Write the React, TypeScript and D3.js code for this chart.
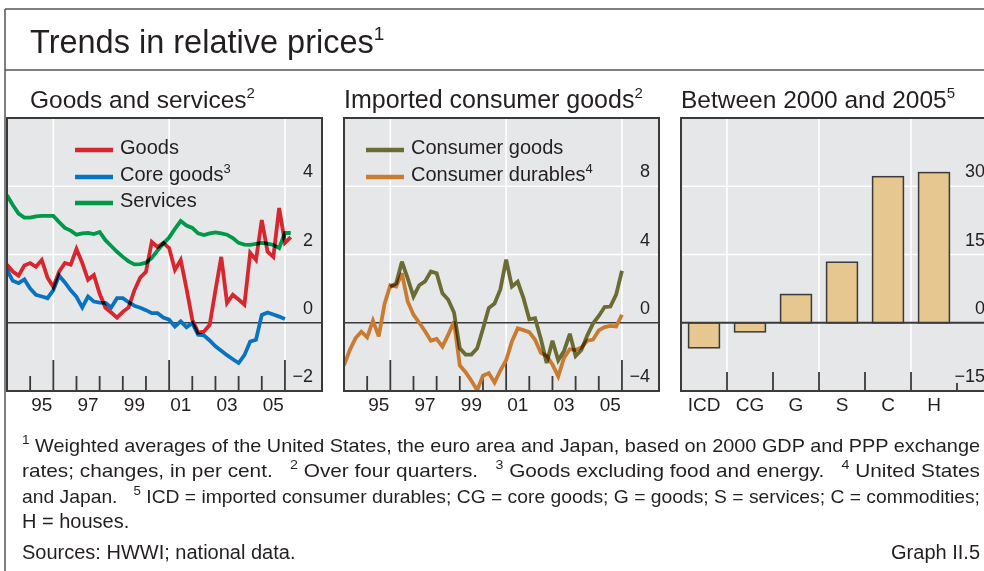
import React from 'react';
import * as d3 from 'd3';

// ---------- data (quarterly, first point = 1994 Q1) ----------
const seriesStart = 1994;
const goods = [1.70,1.50,1.38,1.68,1.75,1.64,1.84,1.32,1.05,1.50,1.75,1.70,2.16,1.75,1.26,1.40,0.85,0.44,0.30,0.15,0.32,0.45,0.95,1.32,1.49,2.37,2.22,2.34,2.19,1.55,1.84,1.00,0.09,-0.29,-0.26,-0.06,0.95,1.93,0.58,0.82,0.68,0.53,2.05,1.84,3.01,2.08,1.93,3.36,2.34,2.51];
const coreGoods = [1.55,1.23,1.16,1.27,1.00,0.82,0.77,0.72,0.96,1.38,1.18,0.95,0.76,0.45,0.77,0.62,0.59,0.58,0.45,0.72,0.72,0.60,0.50,0.44,0.37,0.28,0.28,0.15,0.09,-0.11,0.04,-0.13,-0.01,-0.35,-0.37,-0.52,-0.69,-0.82,-0.95,-1.07,-1.18,-0.95,-0.55,-0.50,0.23,0.30,0.24,0.18,0.11];
const services = [3.74,3.45,3.20,3.08,3.08,3.12,3.13,3.13,3.13,2.95,2.78,2.70,2.58,2.62,2.63,2.60,2.66,2.42,2.25,2.08,1.93,1.80,1.71,1.72,1.76,1.90,2.12,2.32,2.50,2.75,2.98,2.85,2.78,2.62,2.57,2.62,2.65,2.62,2.58,2.48,2.34,2.29,2.28,2.31,2.34,2.32,2.28,2.19,2.63,2.63];
const consumerGoodsStart = 1996;
const consumerGoods = [2.1,2.3,3.58,2.6,1.54,2.2,2.42,3.0,2.90,1.72,1.35,0.6,-1.5,-1.87,-1.87,-1.5,-0.35,0.86,1.13,1.95,3.7,2.12,2.4,1.44,0.2,0.27,-0.95,-2.36,-1.05,-2.2,-1.65,-0.65,-1.95,-1.6,-0.75,-0.05,0.4,0.92,0.95,1.65,3.05];
const consumerDurables = [-2.5,-1.6,-0.9,-0.52,-0.85,0.12,-0.8,1.1,2.2,2.12,2.9,1.25,0.47,0.0,-0.5,-1.05,-0.95,-1.4,-0.7,0.08,-2.5,-2.9,-3.4,-3.95,-3.1,-2.95,-3.5,-2.8,-2.2,-1.1,-0.33,-0.43,-0.55,-1.0,-1.77,-1.95,-2.45,-3.14,-2.05,-1.55,-1.6,-1.45,-1.05,-0.99,-0.45,-0.25,-0.18,-0.22,0.47];

const barCategories = ['ICD', 'CG', 'G', 'S', 'C', 'H'];
const barValues = [-5.5, -2.0, 6.2, 13.3, 32.1, 33.0];

const yearLabels = ['95', '97', '99', '01', '03', '05'];
const goodsTicks = [-2, 0, 2, 4];
const importTicks = [-4, 0, 4, 8];
const barTicks = [-15, 0, 15, 30];

// ---------- style ----------
const FONT = '"Liberation Sans", Arial, Helvetica, sans-serif';
const TXT = '#231f20';
const BG = '#e6e7e8';
const FRAME = '#3a3a3a';
const C_GOODS = '#d7262e';
const C_CORE = '#0a73c0';
const C_SERV = '#00994a';
const C_CG = '#6b6c33';
const C_CD = '#c97b32';
const BAR_FILL = '#e5c78f';

const W = 984, H = 571;
const PW = 315, TOP = 118, BOTTOM = 391;
const LEFTS = [7, 344, 681];

type Pt = { t: number; v: number };
const toPts = (vals: number[], start: number): Pt[] => vals.map((v, i) => ({ t: start + i / 4, v }));

function Sup({ parts, x, y, size, supSize, anchor, textLength }: any) {
  const shift = Math.round(size * 0.4);
  let raised = false;
  return (
    <text x={x} y={y} fontSize={size} fill={TXT} textAnchor={anchor || 'start'}
      textLength={textLength} lengthAdjust={textLength ? 'spacingAndGlyphs' : undefined}
      style={{ whiteSpace: 'pre' }}>
      {parts.map((p: [string, boolean], i: number) => {
        const [s, sup] = p;
        let dy = 0;
        if (sup && !raised) { dy = -shift; raised = true; }
        else if (!sup && raised) { dy = shift; raised = false; }
        return (
          <tspan key={i} dy={dy || undefined} fontSize={sup ? supSize : undefined}>{s}</tspan>
        );
      })}
    </text>
  );
}

function TimePanel({ idx, left, yDomain, ticks, lines, legend }: any) {
  const x = d3.scaleLinear().domain([1994, 2007.6]).range([left, left + PW]);
  const y = d3.scaleLinear().domain(yDomain).range([BOTTOM, TOP]);
  const line = d3.line<Pt>().x(d => x(d.t)).y(d => y(d.v));
  const years = d3.range(1995, 2007);
  const bigYears = [1996, 2001, 2006];
  const clipId = 'clip' + idx;
  return (
    <g>
      <defs>
        <clipPath id={clipId}><rect x={left} y={TOP} width={PW} height={BOTTOM - TOP} /></clipPath>
      </defs>
      <rect x={left} y={TOP} width={PW} height={BOTTOM - TOP} fill={BG} />
      {ticks.filter((t: number) => t !== 0 && t !== yDomain[0]).map((t: number) => (
        <line key={'h' + t} x1={left} x2={left + PW} y1={y(t)} y2={y(t)} stroke="#fff" strokeWidth={1.6} />
      ))}
      {bigYears.map(yr => (
        <line key={'v' + yr} x1={x(yr)} x2={x(yr)} y1={TOP} y2={BOTTOM} stroke="#fff" strokeWidth={1.6} />
      ))}
      <line x1={left} x2={left + PW} y1={y(0)} y2={y(0)} stroke={FRAME} strokeWidth={1.5} />
      {years.map(yr => {
        const big = bigYears.includes(yr);
        return <line key={'t' + yr} x1={x(yr)} x2={x(yr)} y1={BOTTOM} y2={BOTTOM - (big ? 31 : 15)} stroke={FRAME} strokeWidth={1.8} />;
      })}
      <g clipPath={`url(#${clipId})`} style={{ isolation: 'isolate' }}>
        {lines.map((l: any, i: number) => (
          <path key={i} d={line(l.pts) || ''} fill="none" stroke={l.color} strokeWidth={3.8}
            strokeLinejoin="miter" strokeMiterlimit={3} style={{ mixBlendMode: 'multiply' }} />
        ))}
      </g>
      {ticks.map((t: number) => (
        <text key={'yl' + t} x={left + 306} y={y(t) - 9} fontSize={18} textAnchor="end" fill={TXT}>
          {t < 0 ? '\u2212' + Math.abs(t) : String(t)}
        </text>
      ))}
      {yearLabels.map((lab, i) => (
        <text key={'xl' + lab} x={x(1995 + 2 * i + 0.5)} y={411} fontSize={19} textAnchor="middle" fill={TXT}>{lab}</text>
      ))}
      {legend.map((lg: any, i: number) => {
        const ly = [150, 177, 203][i];
        return (
          <g key={'lg' + i}>
            <line x1={left + lg.x0} x2={left + lg.x0 + 38} y1={ly} y2={ly} stroke={lg.color} strokeWidth={4.5} />
            <Sup x={left + lg.x0 + 45} y={ly + 4} size={20} supSize={13} parts={lg.parts} />
          </g>
        );
      })}
      <rect x={left} y={TOP} width={PW} height={BOTTOM - TOP} fill="none" stroke={FRAME} strokeWidth={2} />
    </g>
  );
}

function BarPanel({ left }: any) {
  const bw = 276;
  const xb = d3.scaleBand<string>().domain(barCategories).range([left, left + bw]).paddingInner(0.33).paddingOuter(0.165);
  const y = d3.scaleLinear().domain([-15, 45]).range([BOTTOM, TOP]);
  const step = xb.step();
  const bounds = d3.range(1, barCategories.length + 1).map(k => left + k * step);
  return (
    <g>
      <rect x={left} y={TOP} width={PW} height={BOTTOM - TOP} fill={BG} />
      {[15, 30].map(t => (
        <line key={'h' + t} x1={left} x2={left + PW} y1={y(t)} y2={y(t)} stroke="#fff" strokeWidth={1.6} />
      ))}
      {bounds.filter((_, i) => i % 2 === 0 && i < 5).map(bx => (
        <line key={'g' + bx} x1={bx} x2={bx} y1={TOP} y2={BOTTOM} stroke="#fff" strokeWidth={1.6} />
      ))}
      {barCategories.map((c, i) => {
        const v = barValues[i];
        return (
          <rect key={c} x={xb(c)} width={xb.bandwidth()} y={Math.min(y(v), y(0))} height={Math.abs(y(v) - y(0))}
            fill={BAR_FILL} stroke={FRAME} strokeWidth={1.5} />
        );
      })}
      <line x1={left} x2={left + PW} y1={y(0)} y2={y(0)} stroke={FRAME} strokeWidth={1.8} />
      {bounds.map((bx, i) => (
        <line key={'t' + i} x1={bx} x2={bx} y1={BOTTOM} y2={BOTTOM - (i === bounds.length - 1 ? 8 : 19)} stroke={FRAME} strokeWidth={1.8} />
      ))}
      {barTicks.map(t => (
        <text key={'yl' + t} x={left + 304} y={y(t) - 9} fontSize={18} textAnchor="end" fill={TXT}>
          {t < 0 ? '\u2212' + Math.abs(t) : String(t)}
        </text>
      ))}
      {barCategories.map(c => (
        <text key={'xl' + c} x={(xb(c) || 0) + xb.bandwidth() / 2} y={411} fontSize={19} textAnchor="middle" fill={TXT}>{c}</text>
      ))}
      <rect x={left} y={TOP} width={PW} height={BOTTOM - TOP} fill="none" stroke={FRAME} strokeWidth={2} />
    </g>
  );
}

export default function App() {
  const panel1Lines = [
    { pts: toPts(services, seriesStart), color: C_SERV },
    { pts: toPts(coreGoods, seriesStart), color: C_CORE },
    { pts: toPts(goods, seriesStart), color: C_GOODS },
  ];
  const panel2Lines = [
    { pts: toPts(consumerDurables, seriesStart), color: C_CD },
    { pts: toPts(consumerGoods, consumerGoodsStart), color: C_CG },
  ];
  return (
    <div>
      <style>{'body{margin:0;}'}</style>
      <svg width={W} height={H} viewBox={`0 0 ${W} ${H}`} fontFamily={FONT} style={{ display: 'block', background: '#fff' }}>
        <line x1={5} x2={W} y1={9} y2={9} stroke="#555" strokeWidth={1.5} />
        <line x1={5} x2={W} y1={70} y2={70} stroke="#555" strokeWidth={1.5} />
        <line x1={5} x2={5} y1={9} y2={H} stroke="#555" strokeWidth={1.5} />
        <Sup x={30} y={53} size={32.5} supSize={19} parts={[['Trends in relative prices', false], ['1', true]]} />
        <Sup x={30} y={108} size={24.5} supSize={15} parts={[['Goods and services', false], ['2', true]]} />
        <Sup x={344} y={108} size={25} supSize={15} parts={[['Imported consumer goods', false], ['2', true]]} />
        <Sup x={681} y={108} size={24.5} supSize={15} parts={[['Between 2000 and 2005', false], ['5', true]]} />

        <TimePanel idx={1} left={LEFTS[0]} yDomain={[-2, 6]} ticks={goodsTicks} lines={panel1Lines}
          legend={[
            { x0: 68, color: C_GOODS, parts: [['Goods', false]] },
            { x0: 68, color: C_CORE, parts: [['Core goods', false], ['3', true]] },
            { x0: 68, color: C_SERV, parts: [['Services', false]] },
          ]} />
        <TimePanel idx={2} left={LEFTS[1]} yDomain={[-4, 12]} ticks={importTicks} lines={panel2Lines}
          legend={[
            { x0: 22, color: C_CG, parts: [['Consumer goods', false]] },
            { x0: 22, color: C_CD, parts: [['Consumer durables', false], ['4', true]] },
          ]} />
        <BarPanel left={LEFTS[2]} />

        <Sup x={22} y={452} size={19} supSize={13} textLength={958}
          parts={[['1', true], [' Weighted averages of the United States, the euro area and Japan, based on 2000 GDP and PPP exchange', false]]} />
        <Sup x={22} y={477} size={19} supSize={13} textLength={958}
          parts={[['rates; changes, in per cent.   ', false], ['2', true], [' Over four quarters.   ', false], ['3', true], [' Goods excluding food and energy.   ', false], ['4', true], [' United States', false]]} />
        <Sup x={22} y={503} size={19} supSize={13} textLength={958}
          parts={[['and Japan.   ', false], ['5', true], [' ICD = imported consumer durables; CG = core goods; G = goods; S = services; C = commodities;', false]]} />
        <Sup x={22} y={528} size={20} supSize={13} parts={[['H = houses.', false]]} />
        <Sup x={22} y={559} size={20} supSize={13} parts={[['Sources: HWWI; national data.', false]]} />
        <Sup x={980} y={559} size={20} supSize={13} anchor="end" parts={[['Graph II.5', false]]} />
      </svg>
    </div>
  );
}
